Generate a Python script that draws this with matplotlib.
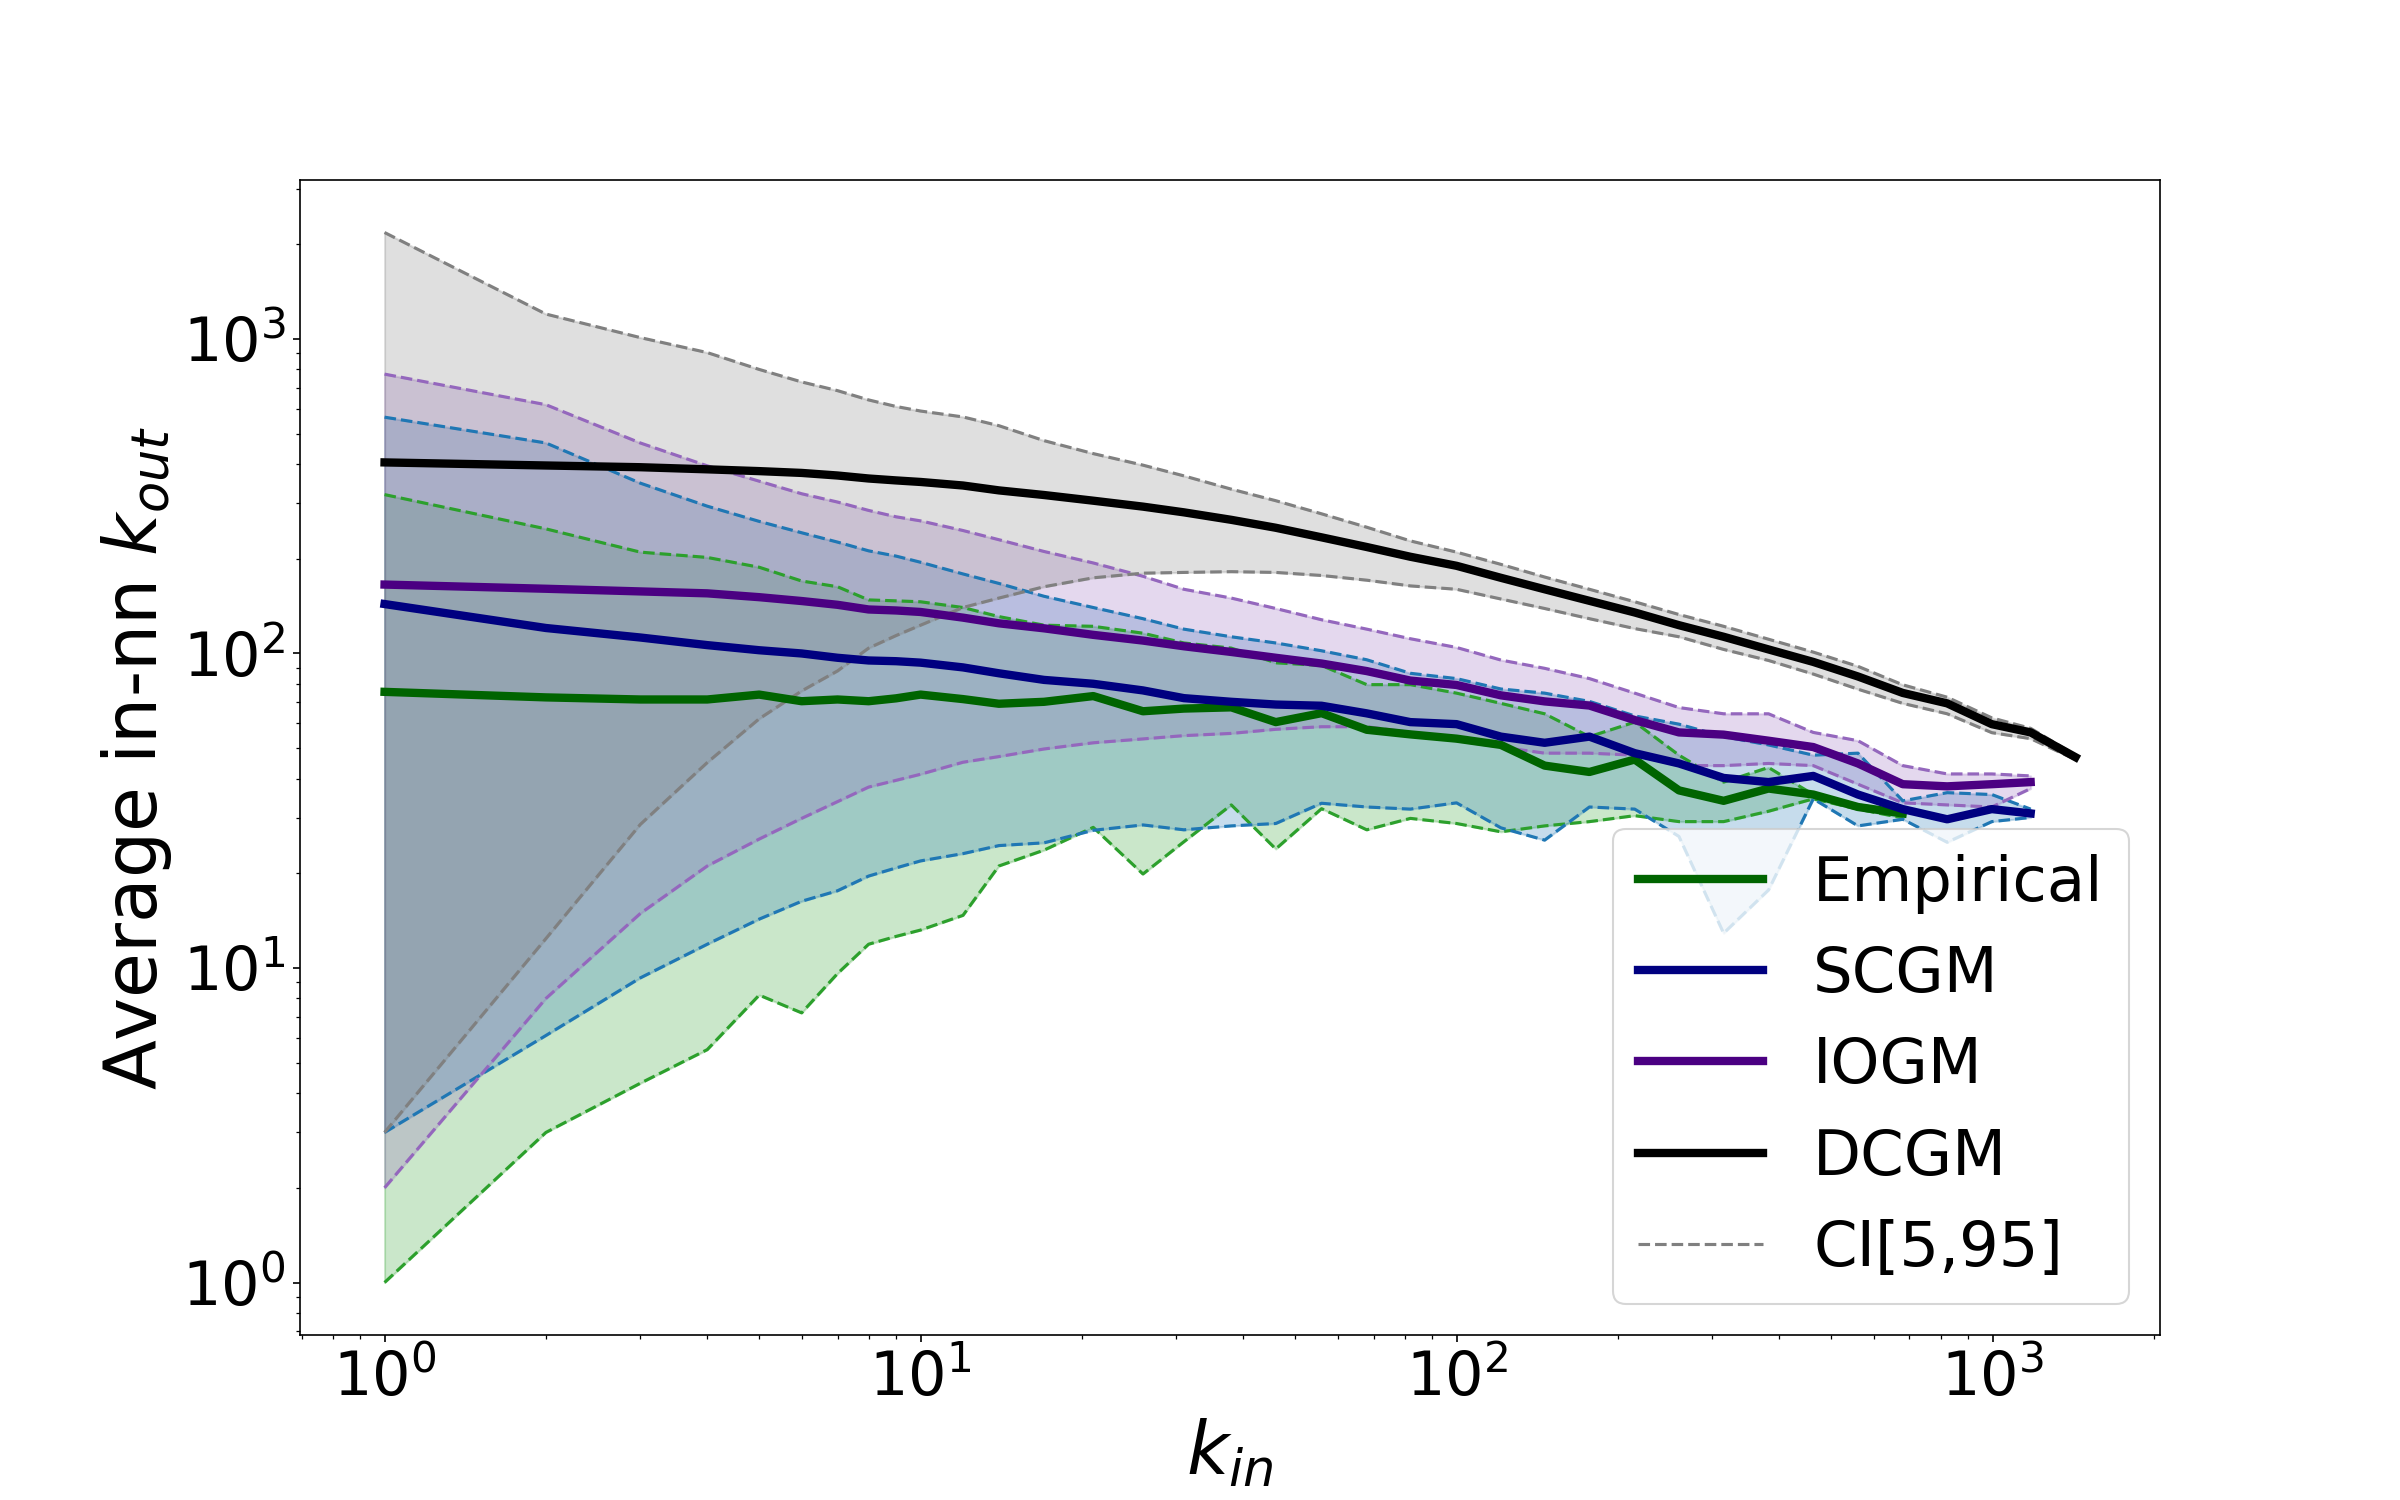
import matplotlib
matplotlib.use("Agg")
import matplotlib.pyplot as plt
from matplotlib.lines import Line2D

# k_in bins
k_in = [1, 2, 3, 4, 5, 6, 7, 8, 9, 10, 12, 14, 17, 21, 26, 31, 38, 46, 56, 68, 82,
        100, 121, 146, 177, 215, 260, 315, 382, 463, 561, 680, 823, 997, 1178, 1428]

emp_mean = [75.5, 72.5, 71.4, 71.4, 74, 70.5, 71.4, 70.5, 72, 74, 71.6, 69.2, 70.2, 73.2, 65.5,
            66.8, 67.4, 60.5, 64.6, 57.2, 55.3, 53.6, 51.2, 44, 42, 46, 36.7, 34, 37.2, 35.6, 32.5, 31]
emp_hi = [320, 249, 210, 202, 188, 170, 163, 148, 147, 146, 140, 131, 123, 122, 116,
          108, 104, 93.4, 91.6, 79.6, 79.6, 74.8, 69.4, 64.3, 54.4, 60.5, 47.5, 39, 43.4, 35.6, 33, 31.5]
emp_lo = [1.0, 3.0, 4.3, 5.5, 8.2, 7.2, 9.6, 11.9, 12.6, 13.2, 14.7, 21.1, 23.7, 28, 19.9,
          25.2, 33, 23.9, 32.1, 27.5, 29.9, 28.8, 27.1, 28.3, 29.2, 30.5, 29.2, 29.2, 31.5, 34.5, 32, 30]

scgm_mean = [143.6, 120.5, 112.4, 106.3, 102.4, 100, 96.9, 95, 94.5, 93.5, 90.3, 86.5, 82.4, 80.1, 76.3,
             72.1, 70.2, 68.8, 68.2, 64.5, 60.5, 59.6, 54.4, 52, 54.4, 48.2, 44.7, 40.2, 39, 40.8,
             35.6, 32, 29.7, 32, 31]
scgm_hi = [564, 467, 348, 294, 263, 242, 226, 212, 204, 195, 179, 167, 152, 140, 129,
           119.5, 113, 108, 102, 95.5, 86.5, 83.2, 77.1, 74.8, 70.4, 63.3, 59.6, 54.4, 51.2, 47.5,
           48.2, 34, 36.1, 35.6, 32]
scgm_lo = [3.0, 6.1, 9.3, 11.9, 14.3, 16.3, 17.6, 19.6, 20.8, 21.9, 23.1, 24.5, 25, 27.4, 28.5,
           27.5, 28.3, 28.8, 33.4, 32.5, 32, 33.5, 27.9, 25.5, 32.5, 32, 26.2, 12.9, 17.7, 34.5,
           28.3, 29.7, 25.1, 29.2, 30.1]

iogm_mean = [165.6, 160.6, 157.5, 155.3, 151, 146.8, 142.8, 138, 137, 135.5, 130, 124.7, 120.2, 114.6, 109.9,
             105.4, 101.1, 96.9, 92.9, 87.9, 82, 79.4, 73.6, 70.4, 68.3, 61.4, 56.1, 55.2, 52.8, 50.4,
             44.7, 38.4, 37.8, 38.4, 39]
iogm_hi = [773, 618, 467, 395, 353, 322, 303, 285, 272, 264, 246, 230, 211, 194, 176,
           160, 150, 139, 128, 119.5, 111.4, 104.5, 95.3, 89.7, 83.2, 74.8, 67.3, 64.3, 64.3, 56.1,
           52.8, 44, 41.4, 41.4, 40.8]
iogm_lo = [2.0, 8.0, 14.9, 21.1, 25.7, 29.9, 33.8, 37.6, 39.5, 41.3, 45.1, 47, 49.7, 52, 53.5,
           54.8, 55.7, 57.4, 58.5, 58.5, 56.1, 52.8, 50.4, 48.2, 48.2, 47.5, 44, 44, 44.7, 44,
           38.4, 33.5, 33, 32.5, 37.2]

dcgm_mean = [405, 396, 391, 385, 380, 375, 368, 360, 355, 351, 342, 330, 319, 306, 293,
             281, 266, 251, 234, 218, 203, 190, 174, 160, 147, 135, 123, 113, 103, 94,
             84.5, 74.9, 69.4, 59.6, 56.1, 46.8]
dcgm_hi = [2180, 1200, 1010, 905, 800, 730, 685, 640, 610, 590, 565, 530, 475, 432, 397,
           367, 333, 306, 278, 252, 228, 210, 192, 175, 160, 146, 133, 122, 111, 101,
           91, 79.5, 72.6, 62.4, 57.8, 47.5]
dcgm_lo = [3.0, 12.4, 28.6, 45, 62, 76, 88, 104, 114, 123, 140, 150, 163, 174, 180,
           181, 182, 181, 177, 171, 164, 160, 149, 139, 129, 120, 113, 103, 95, 86,
           77, 69.4, 64.3, 56, 53.6, 46]

models = [
    ("Empirical", emp_mean, emp_lo, emp_hi, "darkgreen", "tab:green"),
    ("SCGM", scgm_mean, scgm_lo, scgm_hi, "navy", "tab:blue"),
    ("IOGM", iogm_mean, iogm_lo, iogm_hi, "indigo", "tab:purple"),
    ("DCGM", dcgm_mean, dcgm_lo, dcgm_hi, "black", "gray"),
]

fig = plt.figure(figsize=(16, 10), dpi=150)
ax = fig.add_subplot(111)

handles = []
for name, m, lo, hi, c, cc in models:
    x = k_in[:len(m)]
    ax.fill_between(x, lo, hi, color=cc, alpha=0.25, zorder=1)
    ax.plot(x, lo, "--", color=cc, lw=1.5, zorder=2)
    ax.plot(x, hi, "--", color=cc, lw=1.5, zorder=2)
    h, = ax.plot(x, m, color=c, lw=4, label=name, zorder=3)
    handles.append(h)

handles.append(Line2D([], [], color="gray", ls="--", lw=1.5, label="CI[5,95]"))

ax.set_xscale("log")
ax.set_yscale("log")
ax.set_xlabel("$k_{in}$", fontsize=35)
ax.set_ylabel("Average in-nn $k_{out}$", fontsize=35)
ax.tick_params(labelsize=29)
ax.legend(handles=handles, loc="lower right", fontsize=30)

fig.savefig("out.png", dpi=150)
